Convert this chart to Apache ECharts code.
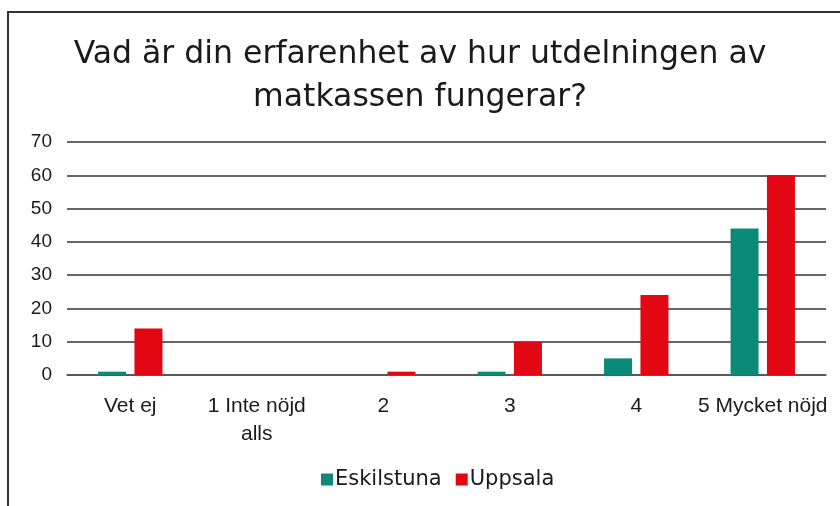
<!DOCTYPE html>
<html>
<head>
<meta charset="utf-8">
<script src="https://cdn.jsdelivr.net/npm/echarts@6/dist/echarts.min.js"></script>
<style>
  html, body { margin: 0; padding: 0; background: #fff; }
  #chart { width: 840px; height: 506px; }
</style>
</head>
<body>
<div id="chart"></div>
<script>
var categories = ['Vet ej', '1 Inte nöjd\nalls', '2', '3', '4', '5 Mycket nöjd'];
var eskilstuna = [1, 0, 0, 1, 5, 44];
var uppsala = [14, 0, 1, 10, 24, 60];

var wide = '"DejaVu Sans", Verdana, sans-serif';
var plain = '"Liberation Sans", Arial, sans-serif';

var chart = echarts.init(document.getElementById('chart'));
chart.setOption({
    animation: false,
    graphic: [{
        type: 'rect',
        shape: { x: 8, y: 12, width: 900, height: 600 },
        style: { fill: 'none', stroke: '#333', lineWidth: 2 },
        silent: true
    }],
    title: {
        text: 'Vad är din erfarenhet av hur utdelningen av\nmatkassen fungerar?',
        left: 'center',
        top: 28,
        padding: [5, 5, 5, 21],
        textStyle: {
            fontFamily: wide,
            fontWeight: 'normal',
            fontSize: 31.5,
            lineHeight: 43,
            color: '#1a1a1a'
        }
    },
    legend: {
        top: 464,
        left: 316,
        itemWidth: 12,
        itemHeight: 12,
        itemGap: 14,
        icon: 'rect',
        textStyle: { fontFamily: wide, fontSize: 21, color: '#1a1a1a', padding: [0, 0, 0, -3] },
        data: ['Eskilstuna', 'Uppsala']
    },
    grid: { left: 67, right: 14, top: 142, bottom: 131 },
    xAxis: {
        type: 'category',
        data: categories,
        axisTick: { show: false },
        axisLine: { lineStyle: { color: '#555', width: 1.5 } },
        axisLabel: {
            fontFamily: plain,
            fontSize: 21,
            lineHeight: 28,
            color: '#1a1a1a',
            margin: 17,
            interval: 0
        }
    },
    yAxis: {
        type: 'value',
        min: 0,
        max: 70,
        interval: 10,
        axisLine: { show: false },
        axisTick: { show: false },
        splitLine: { lineStyle: { color: '#333', width: 1.5 } },
        axisLabel: {
            fontFamily: plain,
            fontSize: 19,
            color: '#1a1a1a',
            margin: 15
        }
    },
    series: [{
        name: 'Eskilstuna',
        type: 'bar',
        data: eskilstuna,
        barWidth: 28,
        barGap: '30%',
        itemStyle: { color: '#0b8a7a' }
    }, {
        name: 'Uppsala',
        type: 'bar',
        data: uppsala,
        barWidth: 28,
        itemStyle: { color: '#e30613' }
    }]
});
</script>
</body>
</html>
